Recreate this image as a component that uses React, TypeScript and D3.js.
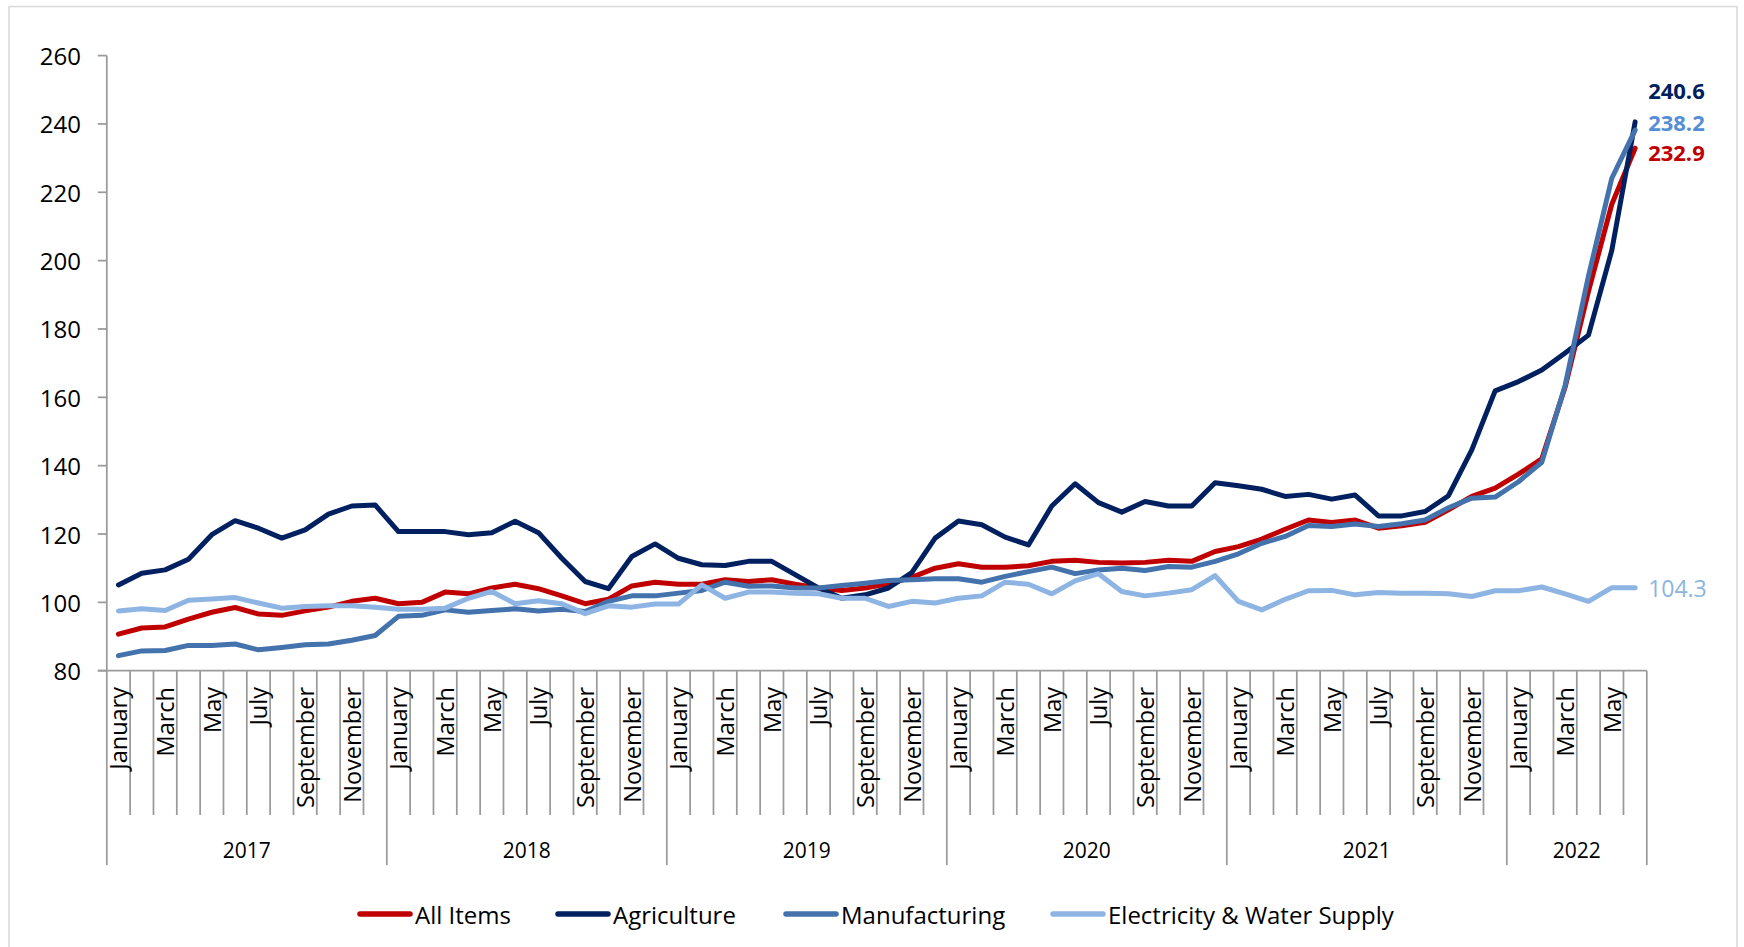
import React from "react";
import * as d3 from "d3";

// Monthly price indices, January 2017 – June 2022
const years = ["2017", "2018", "2019", "2020", "2021", "2022"];
const monthNames = [
  "January", "February", "March", "April", "May", "June",
  "July", "August", "September", "October", "November", "December",
];
const monthsInLastYear = 6;

const allItems = [
  90.7, 92.5, 92.8, 95.1, 97.1, 98.5, 96.6, 96.2, 97.5, 98.6, 100.3, 101.2,
  99.6, 100.0, 103.0, 102.5, 104.2, 105.3, 104.0, 101.9, 99.6, 100.9, 104.8, 105.9,
  105.3, 105.3, 106.6, 106.1, 106.6, 105.3, 104.2, 103.5, 104.2, 105.4, 107.3, 110.0,
  111.3, 110.3, 110.3, 110.7, 112.0, 112.3, 111.7, 111.5, 111.7, 112.3, 112.0, 114.9,
  116.3, 118.5, 121.4, 124.1, 123.4, 124.1, 121.7, 122.4, 123.4, 127.1, 131.0, 133.4,
  137.5, 142.0, 163.0, 191.0, 216.5, 232.9,
];

const agriculture = [
  105.1, 108.5, 109.5, 112.6, 119.8, 123.9, 121.7, 118.8, 121.2, 125.8, 128.2, 128.5,
  120.7, 120.7, 120.7, 119.8, 120.4, 123.7, 120.4, 112.9, 106.1, 104.0, 113.4, 117.1,
  112.9, 111.0, 110.8, 112.0, 112.0, 108.1, 104.2, 101.2, 102.2, 104.2, 108.7, 118.8,
  123.8, 122.7, 119.1, 116.8, 128.2, 134.7, 129.2, 126.4, 129.5, 128.2, 128.2, 135.0,
  134.1, 133.1, 131.0, 131.6, 130.2, 131.4, 125.3, 125.3, 126.6, 131.2, 144.6, 161.9,
  164.6, 168.0, 173.0, 178.2, 203.0, 240.6,
];

const manufacturing = [
  84.4, 85.8, 85.9, 87.4, 87.4, 87.8, 86.1, 86.8, 87.6, 87.8, 88.9, 90.3,
  95.9, 96.2, 97.8, 97.1, 97.6, 98.1, 97.5, 98.0, 97.3, 100.3, 101.9, 101.9,
  102.7, 103.5, 105.9, 104.7, 104.8, 104.2, 104.2, 104.9, 105.6, 106.4, 106.6, 106.9,
  106.9, 105.9, 107.6, 109.0, 110.3, 108.4, 109.5, 110.0, 109.3, 110.5, 110.3, 112.0,
  114.2, 117.3, 119.3, 122.5, 122.2, 122.9, 122.2, 123.0, 124.1, 127.7, 130.5, 130.8,
  135.3, 141.0, 163.5, 195.5, 224.1, 238.2,
];

const electricity = [
  97.5, 98.1, 97.6, 100.6, 101.0, 101.4, 99.8, 98.3, 98.8, 99.0, 99.0, 98.6,
  98.0, 98.0, 98.3, 101.2, 103.2, 99.6, 100.5, 99.6, 96.7, 99.0, 98.6, 99.5,
  99.5, 105.1, 101.2, 103.0, 103.0, 102.7, 102.5, 101.2, 101.2, 98.8, 100.3, 99.8,
  101.2, 101.9, 105.9, 105.3, 102.5, 106.3, 108.4, 103.2, 101.9, 102.7, 103.7, 107.8,
  100.3, 97.8, 100.9, 103.4, 103.5, 102.2, 102.9, 102.7, 102.7, 102.5, 101.7, 103.4,
  103.4, 104.5, 102.5, 100.3, 104.3, 104.3,
];

const yTicks = [80, 100, 120, 140, 160, 180, 200, 220, 240, 260];

const series = [
  { name: "All Items", values: allItems, color: "#C00000", labelColor: "#C00000", labelDy: 13, bold: true },
  { name: "Agriculture", values: agriculture, color: "#002060", labelColor: "#002060", labelDy: -22.5, bold: true },
  { name: "Manufacturing", values: manufacturing, color: "#4372AC", labelColor: "#558ED5", labelDy: 0.5, bold: true },
  { name: "Electricity & Water Supply", values: electricity, color: "#8DB4E2", labelColor: "#8DB4E2", labelDy: 0, bold: false },
];

// Build category list (year, month index)
const categories: { year: string; month: number }[] = [];
years.forEach((y, yi) => {
  const n = yi === years.length - 1 ? monthsInLastYear : 12;
  for (let m = 0; m < n; m++) categories.push({ year: y, month: m });
});

const W = 1744;
const H = 947;
const plotLeft = 106.8;
const plotRight = 1646.8;
const plotTop = 55.6;
const plotBottom = 670.7;
const FONT = "'Open Sans', 'Noto Sans', sans-serif";
const AXIS = "#9a9a9a";

const legendX = [358, 556, 784, 1051];

export default function App() {
  const x = d3
    .scaleBand<number>()
    .domain(categories.map((_, i) => i))
    .range([plotLeft, plotRight])
    .paddingInner(0)
    .paddingOuter(0);
  const bw = x.bandwidth();
  const cx = (i: number) => (x(i) as number) + bw / 2;

  const y = d3.scaleLinear().domain([80, 260]).range([plotBottom, plotTop]);

  const line = d3
    .line<number>()
    .x((_, i) => cx(i))
    .y((d) => y(d));

  const last = categories.length - 1;

  // year boundaries
  const yearStarts: number[] = [];
  categories.forEach((c, i) => {
    if (c.month === 0) yearStarts.push(i);
  });

  return (
    <svg
      width={W}
      height={H}
      style={{ position: "absolute", left: 0, top: 0, background: "#fff" }}
      fontFamily={FONT}
    >
      <rect x={9} y={6.5} width={1728} height={960} fill="#fff" stroke="#d9d9d9" strokeWidth={1.5} />

      {/* value axis */}
      <line x1={plotLeft} x2={plotLeft} y1={plotTop} y2={plotBottom} stroke={AXIS} strokeWidth={1.75} />
      {yTicks.map((t) => (
        <g key={t}>
          <line x1={plotLeft - 9} x2={plotLeft} y1={y(t)} y2={y(t)} stroke={AXIS} strokeWidth={1.75} />
          <text
            x={81}
            y={y(t)}
            textAnchor="end"
            dominantBaseline="central"
            fontSize={24}
            fill="#000"
          >
            {t}
          </text>
        </g>
      ))}

      {/* category axis */}
      <line x1={plotLeft - 9} x2={plotRight} y1={plotBottom} y2={plotBottom} stroke={AXIS} strokeWidth={1.75} />
      {d3.range(categories.length + 1).map((i) => {
        const bx = i < categories.length ? (x(i) as number) : plotRight;
        const isYear = i === categories.length || categories[i].month === 0;
        return (
          <line
            key={"b" + i}
            x1={bx}
            x2={bx}
            y1={plotBottom}
            y2={isYear ? 865 : 815}
            stroke={AXIS}
            strokeWidth={1.75}
          />
        );
      })}
      {categories.map((c, i) =>
        c.month % 2 === 0 ? (
          <text
            key={"m" + i}
            transform={`translate(${cx(i)},687) rotate(-90)`}
            textAnchor="end"
            dominantBaseline="central"
            fontSize={23.5}
            fill="#000"
          >
            {monthNames[c.month]}
          </text>
        ) : null
      )}
      {yearStarts.map((s, k) => {
        const e = k + 1 < yearStarts.length ? yearStarts[k + 1] : categories.length;
        const x0 = x(s) as number;
        const x1 = e < categories.length ? (x(e) as number) : plotRight;
        return (
          <text key={"y" + k} x={(x0 + x1) / 2} y={858} textAnchor="middle" fontSize={21} fill="#000">
            {years[k]}
          </text>
        );
      })}

      {/* series */}
      {series.map((s) => (
        <path
          key={s.name}
          d={line(s.values) as string}
          fill="none"
          stroke={s.color}
          strokeWidth={5}
          strokeLinejoin="round"
          strokeLinecap="round"
        />
      ))}

      {/* end-of-series value labels */}
      {series.map((s) => (
        <text
          key={"l" + s.name}
          x={cx(last) + 13}
          y={y(s.values[last]) + s.labelDy}
          fontSize={s.bold ? 22 : 23}
          fontWeight={s.bold ? 700 : 400}
          fill={s.labelColor}
          dominantBaseline={s.bold ? "auto" : "central"}
        >
          {s.values[last].toFixed(1)}
        </text>
      ))}

      {/* legend */}
      {series.map((s, k) => (
        <g key={"g" + s.name} transform={`translate(${legendX[k]},914)`}>
          <line x1={2} x2={52} y1={0} y2={0} stroke={s.color} strokeWidth={5.5} strokeLinecap="round" />
          <text x={57} y={0} dominantBaseline="central" fontSize={24} fill="#000">
            {s.name}
          </text>
        </g>
      ))}
    </svg>
  );
}
